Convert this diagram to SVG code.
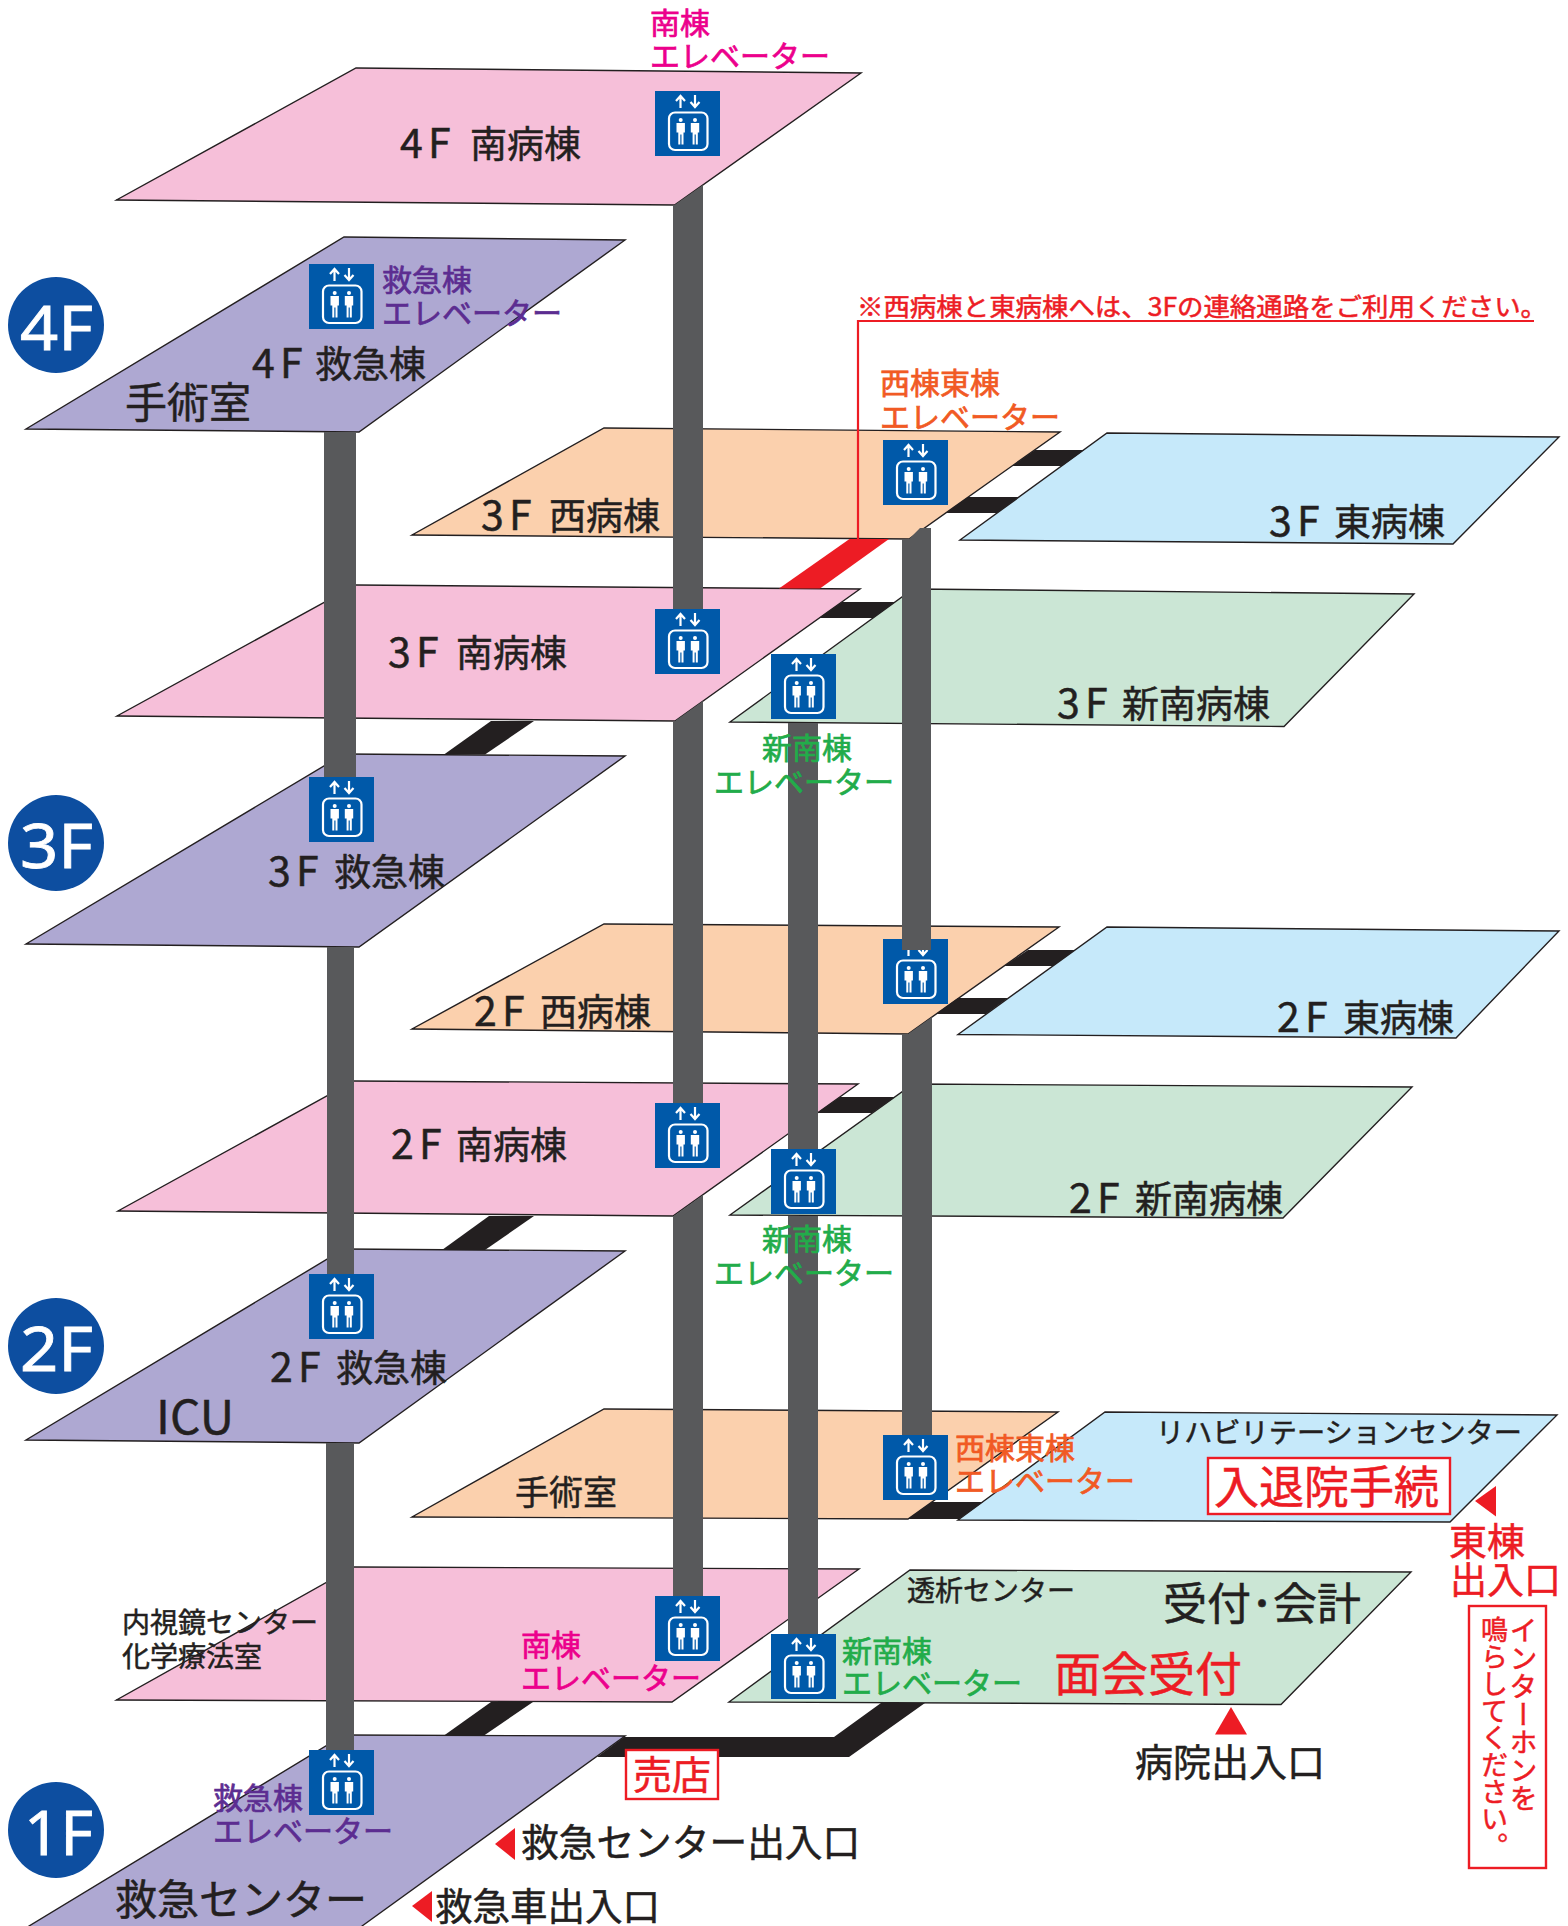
<svg xmlns="http://www.w3.org/2000/svg" xmlns:xlink="http://www.w3.org/1999/xlink" width="1568" height="1926" viewBox="0 0 1568 1926">
<style>
text{font-family:"Noto Sans CJK JP","Noto Sans",sans-serif;fill:#231f20;stroke:#231f20;stroke-width:.5}
.plate{stroke:#231f20;stroke-width:1.4;stroke-linejoin:miter}
.pink{fill:#f6bfd9}.purple{fill:#aea8d2}.orange{fill:#fbd0ad}.blue{fill:#c6e9fa}.green{fill:#cbe6d5}
.shaft{fill:#58595b}.bridge{fill:#231f20}
.tm{font-size:37px}
.n{font-size:41px}
.el{font-size:30px;stroke-width:.7}
text.e-pk{fill:#ec008c;stroke:#ec008c}text.e-pu{fill:#5c2d91;stroke:#5c2d91}text.e-or{fill:#f15a24;stroke:#f15a24}text.e-gr{fill:#22ac4a;stroke:#22ac4a}
polygon.red{fill:#ed1c24}
text.red{fill:#ed1c24;stroke:#ed1c24}
.box{fill:#fff;stroke:#ed1c24;stroke-width:2.4}
text.fl{font-family:"Noto Sans",sans-serif;font-size:62px;fill:#fff;stroke:#fff;stroke-width:.8}
</style>
<defs>
<g id="elev">
<rect width="65" height="65" fill="#0059a9"/>
<path d="M25.5 17V6M21 10l4.5-5 4.5 5M40 4v11M35.500 11l4.500 5 4.500-5" fill="none" stroke="#fff" stroke-width="2.200"/>
<rect x="14" y="21.500" width="38.500" height="37.500" rx="6" fill="none" stroke="#fff" stroke-width="2.200"/>
<g fill="#fff">
<circle cx="25.700" cy="29" r="2"/><path d="M21.500 32h8.400v9.500h-1.400v12h-2v-10h-1.200v10h-2v-12h-1.800z"/>
<circle cx="40" cy="29" r="2"/><path d="M35.800 32h8.400v9.500h-1.400v12h-2v-10h-1.200v10h-2v-12h-1.800z"/>
</g>
</g>
</defs>
<rect width="1568" height="1926" fill="#fff"/>

<g id="floor-4F-badge"><circle cx="56" cy="325" r="48" fill="#0d4ea0"/><text class="fl" x="20" y="350" textLength="73" lengthAdjust="spacingAndGlyphs">4F</text></g>
<g id="floor-3F-badge"><circle cx="56" cy="843" r="48" fill="#0d4ea0"/><text class="fl" x="20" y="868" textLength="73" lengthAdjust="spacingAndGlyphs">3F</text></g>
<g id="floor-2F-badge"><circle cx="56" cy="1346" r="48" fill="#0d4ea0"/><text class="fl" x="20" y="1371" textLength="73" lengthAdjust="spacingAndGlyphs">2F</text></g>
<g id="floor-1F-badge"><circle cx="56" cy="1830" r="48" fill="#0d4ea0"/><text class="fl" x="24" y="1855" textLength="69" lengthAdjust="spacingAndGlyphs">1F</text></g>

<g id="south-4F"><polygon class="plate pink" points="356,68 861,73 674.500,205 116.500,200"/><text class="tm" y="158"><tspan class="n" x="400">4</tspan><tspan class="n" x="428">F</tspan><tspan x="470">南病棟</tspan></text></g>
<g id="er-4F"><polygon class="plate purple" points="344,237 625,240 359,432 26,429"/><text class="tm" y="378"><tspan class="n" x="252">4</tspan><tspan class="n" x="280">F</tspan><tspan x="315">救急棟</tspan></text><text x="125" y="418" font-size="42">手術室</text></g>
<g id="west-3F"><polygon class="plate orange" points="604,428 1060,432 909,539 412,535"/><text class="tm" y="530"><tspan class="n" x="481">3</tspan><tspan class="n" x="509">F</tspan><tspan x="549">西病棟</tspan></text></g>
<g id="east-3F"><polygon class="plate blue" points="1107,433 1559,437 1453,544 960,540"/><text class="tm" y="536"><tspan class="n" x="1269">3</tspan><tspan class="n" x="1297">F</tspan><tspan x="1334">東病棟</tspan></text></g>
<g id="south-3F"><polygon class="plate pink" points="356,585 860,589 675,721 117,716"/><text class="tm" y="667"><tspan class="n" x="388">3</tspan><tspan class="n" x="416">F</tspan><tspan x="456">南病棟</tspan></text></g>
<g id="newsouth-3F"><polygon class="plate green" points="913,589 1414,594 1284,726.500 730,722"/><text class="tm" y="718"><tspan class="n" x="1057">3</tspan><tspan class="n" x="1085">F</tspan><tspan x="1122">新南病棟</tspan></text></g>
<g id="er-3F"><polygon class="plate purple" points="344,754 625,756 359,947 26,944"/><text class="tm" y="886"><tspan class="n" x="268">3</tspan><tspan class="n" x="296">F</tspan><tspan x="334">救急棟</tspan></text></g>
<g id="west-2F"><polygon class="plate orange" points="604,924 1059,927 908,1034 412,1029"/><text class="tm" y="1026"><tspan class="n" x="474">2</tspan><tspan class="n" x="502">F</tspan><tspan x="540">西病棟</tspan></text></g>
<g id="east-2F"><polygon class="plate blue" points="1107,927 1559,931 1456,1038 958,1034.500"/><text class="tm" y="1032"><tspan class="n" x="1277">2</tspan><tspan class="n" x="1305">F</tspan><tspan x="1343">東病棟</tspan></text></g>
<g id="south-2F"><polygon class="plate pink" points="354,1081 858,1084 673,1216 118,1211"/><text class="tm" y="1159"><tspan class="n" x="391">2</tspan><tspan class="n" x="419">F</tspan><tspan x="456">南病棟</tspan></text></g>
<g id="newsouth-2F"><polygon class="plate green" points="913,1084 1412,1087 1283,1218 730,1215"/><text class="tm" y="1213"><tspan class="n" x="1069">2</tspan><tspan class="n" x="1097">F</tspan><tspan x="1135">新南病棟</tspan></text></g>
<g id="er-2F"><polygon class="plate purple" points="344,1249 625,1251 359,1443 26,1440"/><text class="tm" y="1382"><tspan class="n" x="270">2</tspan><tspan class="n" x="298">F</tspan><tspan x="336">救急棟</tspan></text><text x="156" y="1434" font-size="47" font-family="Noto Sans" textLength="78" lengthAdjust="spacingAndGlyphs">ICU</text></g>
<g id="west-1F"><polygon class="plate orange" points="604,1409 1058,1412 908,1519 412,1517"/><text x="515" y="1505" font-size="34">手術室</text></g>
<g id="east-1F"><polygon class="plate blue" points="1105,1412 1557,1415 1450,1522 958,1520"/><text x="1156" y="1443" font-size="28" textLength="366" lengthAdjust="spacingAndGlyphs">リハビリテーションセンター</text></g>
<g id="south-1F"><polygon class="plate pink" points="354,1567 859,1569 672,1702 116.500,1700"/><text x="122" y="1633" font-size="28">内視鏡センター</text><text x="122" y="1667" font-size="28">化学療法室</text></g>
<g id="newsouth-1F"><polygon class="plate green" points="910,1570 1411,1572 1281,1704.500 729,1702"/><text x="907" y="1601" font-size="28">透析センター</text><text x="1163" y="1620" font-size="44" textLength="198" lengthAdjust="spacingAndGlyphs">受付･会計</text><text class="red" x="1054" y="1691" font-size="47">面会受付</text></g>
<g id="er-1F"><polygon class="plate purple" points="344,1735 625,1736 362,1926 362,1930 24,1930 29,1926"/><text x="115" y="1915" font-size="42">救急センター</text></g>

<g id="elevator-we-2F"><use xlink:href="#elev" href="#elev" x="883" y="939"/></g>

<g id="connectors">
<polygon class="bridge" points="1035,450 1084,450 1062,466 1012,466"/>
<polygon class="bridge" points="968,497 1019,497 997,513 946,513"/>
<polygon class="bridge" points="1028,950 1075,950 1053,966 1004,966"/>
<polygon class="bridge" points="958,998 1008,998 986,1014 936,1014"/>
<polygon class="bridge" points="932,1502 983,1502 959,1519 908,1519"/>
<polygon class="bridge" points="842,602 895,602 873,618 819,618"/>
<polygon class="bridge" points="840,1097 895,1097 872,1113 817,1113"/>
<polygon class="bridge" points="491,721 534,721 485,754.500 444,754.500"/>
<polygon class="bridge" points="489,1216 534,1216 485,1250 442,1250"/>
<polygon class="bridge" points="491,1702 533,1702 484,1735.500 444,1735.500"/>
<polygon class="bridge" points="881,1703 925,1703 849,1757 597,1757 624,1737 834,1737"/>
<polygon fill="#ed1c24" points="849.500,539 889,539 820,588.500 779,588.500"/>
<polygon class="shaft" points="673,206 674.500,205 703,185 703,615 673,615"/>
<polygon class="shaft" points="673,722 675,721 703,701 703,1110 673,1110"/>
<polygon class="shaft" points="673,1216.500 703,1195 703,1602 673,1602"/>
<rect class="shaft" x="788" y="723" width="30" height="432"/>
<rect class="shaft" x="788" y="1216" width="30" height="424"/>
<polygon class="shaft" points="902,539 909,539 920,528 931,528 931,950 902,950"/>
<polygon class="shaft" points="902,1034 908,1034 932,1017 932,1440 902,1440"/>
<rect class="shaft" x="324" y="432" width="32" height="350"/>
<rect class="shaft" x="327" y="947" width="27" height="332"/>
<rect class="shaft" x="326" y="1443" width="28" height="312"/>
</g>

<g id="elevator-south-4F"><use xlink:href="#elev" href="#elev" x="655" y="91"/><text class="el e-pk" x="650" y="34">南棟</text><text class="el e-pk" x="650" y="67">エレベーター</text></g>
<g id="elevator-south-3F"><use xlink:href="#elev" href="#elev" x="655" y="609"/></g>
<g id="elevator-south-2F"><use xlink:href="#elev" href="#elev" x="655" y="1103"/></g>
<g id="elevator-south-1F"><use xlink:href="#elev" href="#elev" x="655" y="1596"/><text class="el e-pk" x="521" y="1656">南棟</text><text class="el e-pk" x="521" y="1689">エレベーター</text></g>
<g id="elevator-er-4F"><use xlink:href="#elev" href="#elev" x="309" y="264"/><text class="el e-pu" x="382" y="291">救急棟</text><text class="el e-pu" x="382" y="324">エレベーター</text></g>
<g id="elevator-er-3F"><use xlink:href="#elev" href="#elev" x="309" y="777"/></g>
<g id="elevator-er-2F"><use xlink:href="#elev" href="#elev" x="309" y="1274"/></g>
<g id="elevator-er-1F"><use xlink:href="#elev" href="#elev" x="309" y="1750"/><text class="el e-pu" x="213" y="1809">救急棟</text><text class="el e-pu" x="213" y="1842">エレベーター</text></g>
<g id="elevator-we-3F"><use xlink:href="#elev" href="#elev" x="883" y="440"/><text class="el e-or" x="880" y="394">西棟東棟</text><text class="el e-or" x="880" y="428">エレベーター</text></g>
<g id="elevator-we-1F"><use xlink:href="#elev" href="#elev" x="883" y="1435"/><text class="el e-or" x="955" y="1459">西棟東棟</text><text class="el e-or" x="955" y="1492">エレベーター</text></g>
<g id="elevator-ns-3F"><use xlink:href="#elev" href="#elev" x="771" y="654"/><text class="el e-gr" x="762" y="759">新南棟</text><text class="el e-gr" x="714" y="793">エレベーター</text></g>
<g id="elevator-ns-2F"><use xlink:href="#elev" href="#elev" x="771" y="1149"/><text class="el e-gr" x="762" y="1250">新南棟</text><text class="el e-gr" x="714" y="1284">エレベーター</text></g>
<g id="elevator-ns-1F"><use xlink:href="#elev" href="#elev" x="771" y="1634"/><text class="el e-gr" x="842" y="1662">新南棟</text><text class="el e-gr" x="842" y="1694">エレベーター</text></g>

<g id="note-3F"><path d="M858 539V321H1534" fill="none" stroke="#ed1c24" stroke-width="2.200"/><text class="red" x="857" y="316" font-size="25" textLength="690" lengthAdjust="spacingAndGlyphs">※西病棟と東病棟へは、3Fの連絡通路をご利用ください。</text></g>

<g id="shop"><rect class="box" x="626" y="1750" width="92" height="49"/><text class="red" x="633" y="1789" font-size="39">売店</text></g>
<g id="admission"><rect class="box" x="1208" y="1458" width="242" height="56"/><text class="red" x="1214" y="1504" font-size="45">入退院手続</text></g>
<g id="east-entrance"><polygon class="red" points="1496,1486 1496,1516.500 1475,1501"/><text class="red" x="1449" y="1555" font-size="38">東棟</text><text class="red" x="1450" y="1594" font-size="37">出入口</text></g>
<g id="intercom"><rect class="box" x="1469" y="1606" width="77" height="262"/>
<text class="red" x="1523.500" y="1616" font-size="28" style="writing-mode:vertical-rl">インターホンを</text>
<text class="red" x="1494.500" y="1616" font-size="27" style="writing-mode:vertical-rl">鳴らしてください。</text></g>
<g id="hospital-entrance"><polygon class="red" points="1231,1707 1215,1734.500 1247,1734.500"/><text x="1135" y="1776" font-size="38">病院出入口</text></g>
<g id="er-entrance"><polygon class="red" points="515,1828 515,1860 495,1844"/><text x="521" y="1856" font-size="37.700">救急センター出入口</text></g>
<g id="ambulance-entrance"><polygon class="red" points="432,1891 432,1922 412,1906"/><text x="435" y="1920" font-size="37.500">救急車出入口</text></g>
</svg>
